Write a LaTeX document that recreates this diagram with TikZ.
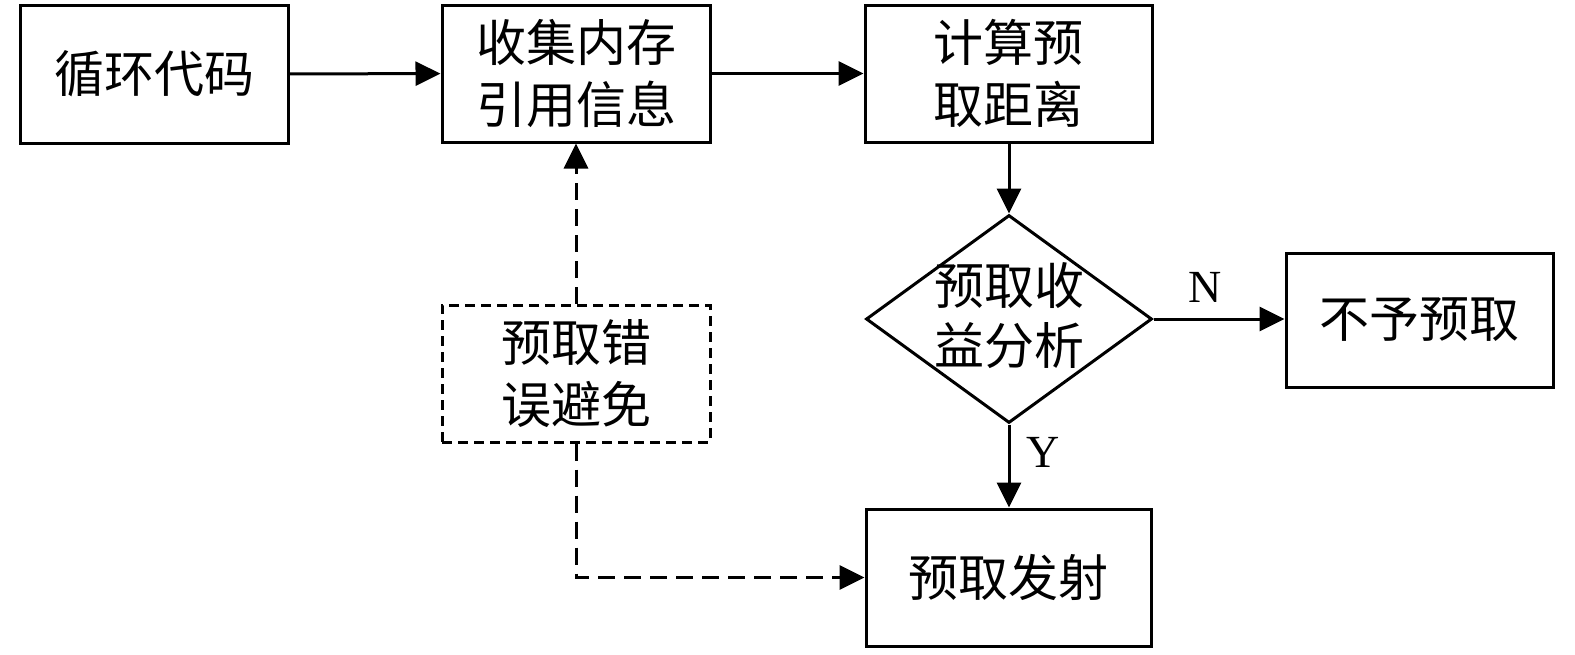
\documentclass[tikz,border=0pt]{standalone}
\usepackage{fontspec}
\setmainfont{Liberation Serif}
\newfontfamily\cjk{Noto Sans CJK SC}
\usetikzlibrary{arrows.meta,shapes.geometric}
\begin{document}
\begin{tikzpicture}[x=1pt,y=-1pt,
  box/.style={draw, line width=3pt, inner sep=0pt, align=center,
    font=\cjk\fontsize{50}{62}\selectfont},
  dbox/.style={box, dash pattern=on 10pt off 6pt},
  dia/.style={draw, line width=3pt, diamond, inner sep=0pt},
  txt/.style={inner sep=0pt, align=center, font=\cjk\fontsize{50}{60}\selectfont},
  lab/.style={inner sep=0pt, font=\fontsize{46}{50}\selectfont},
  arr/.style={line width=3pt, -{Triangle[length=25pt,width=24pt]}},
  darr/.style={arr, dash pattern=on 17pt off 9pt}
]
\useasboundingbox (0,0) rectangle (1575,654);
\node[box, minimum width=268pt, minimum height=138pt] (A) at (154,74) {循环代码};
\node[box, minimum width=268pt, minimum height=137pt] (B) at (576,73.5) {收集内存\\引用信息};
\node[box, minimum width=287pt, minimum height=137pt] (C) at (1008.5,73.5) {计算预\\取距离};
\node[dia, minimum width=286pt, minimum height=208pt] (D) at (1009,319) {};
\node[txt] (Dt) at (1009,316) {预取收\\益分析};
\node[box, minimum width=267pt, minimum height=134pt] (E) at (1419.5,320) {不予预取};
\node[dbox, minimum width=268pt, minimum height=137pt] (F) at (576,373.5) {预取错\\误避免};
\node[box, minimum width=285pt, minimum height=137pt] (G) at (1008.5,577.5) {预取发射};
\node[lab] (N) at (1205,287) {N};
\node[lab] (Y) at (1043,452) {Y};
\draw[arr] (A) -- (B);
\draw[arr] (B) -- (C);
\draw[arr] (C.south -| D.north) -- (D.north);
\draw[arr] (D.east) -- (D.east -| E.west);
\draw[arr] (D.south) -- (D.south |- G.north);
\draw[darr] (F.north) -- (B.south);
\draw[darr] (F.south) |- (G.west);
\end{tikzpicture}
\end{document}
